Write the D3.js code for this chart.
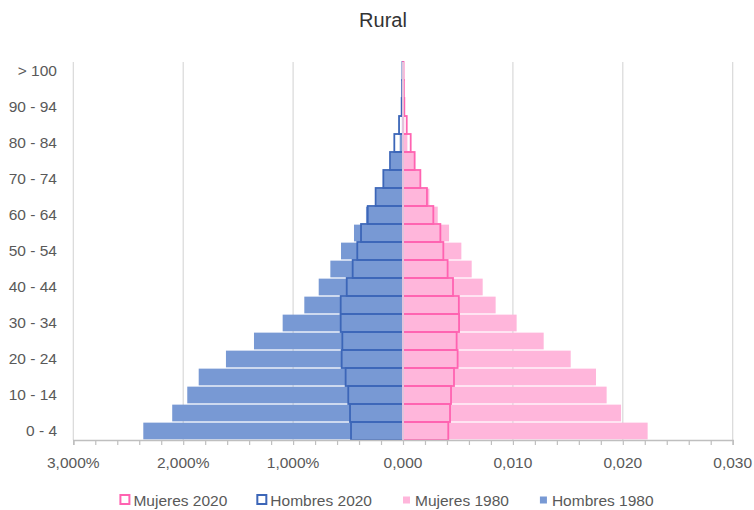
<!DOCTYPE html>
<html><head><meta charset="utf-8">
<script src="https://cdn.jsdelivr.net/npm/d3@7"></script>
<style>body{margin:0;background:#fff}svg{display:block}</style>
</head><body><svg id="c" width="754" height="510"></svg>
<script>
const title = "Rural";
const categories = ["0 - 4","5 - 9","10 - 14","15 - 19","20 - 24","25 - 29","30 - 34","35 - 39","40 - 44","45 - 49","50 - 54","55 - 59","60 - 64","65 - 69","70 - 74","75 - 79","80 - 84","85 - 89","90 - 94","95 - 99","> 100"];
const hombres1980 = [0.02363,0.0210,0.01963,0.01859,0.01611,0.01356,0.01095,0.00898,0.00767,0.00661,0.00564,0.00446,0.00337,0.00245,0.00175,0.0011,0.0003,0.0001,0.00004,0.00002,0.00001];
const hombres2020 = [0.00473,0.00482,0.00498,0.00522,0.00558,0.00552,0.00567,0.00567,0.00512,0.00458,0.00416,0.00382,0.00321,0.00249,0.00179,0.00118,0.00079,0.00036,0.00012,0.00008,0.00005];
const mujeres1980 = [0.02226,0.01984,0.01853,0.01756,0.01526,0.0128,0.01034,0.00843,0.00725,0.00625,0.00531,0.00419,0.00316,0.0024,0.00155,0.001,0.0004,0.00012,0.00005,0.00002,0.00001];
const mujeres2020 = [0.00412,0.00428,0.00437,0.00464,0.00497,0.00488,0.0051,0.00508,0.00455,0.00406,0.00367,0.0034,0.00276,0.00218,0.00158,0.00106,0.0007,0.00034,0.00012,0.00008,0.00005];
const xTickValues = [-0.03,-0.02,-0.01,0,0.01,0.02,0.03];
const xTickLabels = ["3,000%","2,000%","1,000%","0,000","0,010","0,020","0,030"];
const legendLabels = ["Mujeres 2020","Hombres 2020","Mujeres 1980","Hombres 1980"];

const C = {m80:"#7899d4", h20:"#3c66b8", w80:"#ffb6db", w20:"#ff63b1", grid:"#d9d9d9", axis:"#bfbfbf", text:"#595959"};
const FONT = "'Liberation Sans', Arial, sans-serif";

const svg = d3.select("#c");
const plotTop = 62, plotBottom = 440;
const x = d3.scaleLinear().domain([-0.03,0.03]).range([73.3,732.7]);
const y = d3.scaleBand().domain(categories.slice().reverse()).range([plotTop,plotBottom]).paddingInner(0.07).paddingOuter(0.035);

svg.append("text").attr("x",383).attr("y",27).attr("text-anchor","middle")
  .attr("font-family",FONT).attr("font-size",20).attr("fill","#333").text(title);

// gridlines
svg.append("g").selectAll("line").data(xTickValues.filter(v=>v!==0)).join("line")
  .attr("x1",d=>x(d)).attr("x2",d=>x(d)).attr("y1",plotTop).attr("y2",plotBottom)
  .attr("stroke",C.grid).attr("stroke-width",1.2);

const step = y.step();
const gap = step - y.bandwidth();
// 1980 bars
svg.append("g").selectAll("rect").data(categories).join("rect")
  .attr("x",(d,i)=>x(-hombres1980[i])).attr("y",d=>y(d))
  .attr("width",(d,i)=>x(0)-x(-hombres1980[i])).attr("height",y.bandwidth())
  .attr("fill",C.m80);
svg.append("g").selectAll("rect").data(categories).join("rect")
  .attr("x",x(0)).attr("y",d=>y(d))
  .attr("width",(d,i)=>x(mujeres1980[i])-x(0)).attr("height",y.bandwidth())
  .attr("fill",C.w80);
// 2020 outlines
svg.append("g").selectAll("rect").data(categories).join("rect")
  .attr("x",(d,i)=>x(-hombres2020[i])).attr("y",d=>y(d)-gap/2)
  .attr("width",(d,i)=>x(0)-x(-hombres2020[i])).attr("height",step)
  .attr("fill","none").attr("stroke",C.h20).attr("stroke-width",1.8);
svg.append("g").selectAll("rect").data(categories).join("rect")
  .attr("x",x(0)).attr("y",d=>y(d)-gap/2)
  .attr("width",(d,i)=>x(mujeres2020[i])-x(0)).attr("height",step)
  .attr("fill","none").attr("stroke",C.w20).attr("stroke-width",1.8);
// zero line
svg.append("line").attr("x1",x(0)).attr("x2",x(0)).attr("y1",plotTop).attr("y2",plotBottom)
  .attr("stroke","#dfe3ea").attr("stroke-width",1.5);

// x axis
const xAxis = d3.axisBottom(x).tickValues(d3.range(-15,16).map(k=>k*0.002)).tickSize(5)
  .tickFormat(()=> "");
const gx = svg.append("g").attr("transform",`translate(0,${plotBottom})`).call(xAxis);
gx.select(".domain").attr("stroke",C.axis).attr("stroke-width",1.5);
gx.selectAll(".tick line").attr("stroke",C.axis).attr("stroke-width",1.2);
svg.append("g").selectAll("text").data(xTickValues).join("text")
  .attr("x",d=>x(d)).attr("y",468).attr("text-anchor","middle")
  .attr("font-family",FONT).attr("font-size",15.5).attr("fill",C.text)
  .text((d,i)=>xTickLabels[i]);

// y axis labels
const yAxis = d3.axisLeft(y).tickValues(categories.filter((d,i)=>i%2===0)).tickSize(0).tickPadding(0);
const gy = svg.append("g").attr("transform","translate(57,0)").call(yAxis);
gy.select(".domain").remove();
gy.selectAll("text").attr("font-family",FONT).attr("font-size",15.5).attr("fill",C.text);

// legend
const lg = svg.append("g");
const items = legendLabels.map((l,i)=>({l,i}));
const itemsG = lg.selectAll("g").data(items).join("g");
itemsG.each(function(d){
  const g = d3.select(this);
  if (d.i<2) {
    g.append("rect").attr("x",1).attr("y",-10.5).attr("width",9).attr("height",9)
      .attr("fill","#fff").attr("stroke",d.i===0?C.w20:C.h20).attr("stroke-width",2);
  } else {
    g.append("rect").attr("x",2).attr("y",-9).attr("width",7).attr("height",7)
      .attr("fill",d.i===2?C.w80:C.m80);
  }
  const t = g.append("text").attr("x",14).attr("y",0).attr("font-family",FONT)
    .attr("font-size",15.5).attr("fill",C.text).text(d.l);
  d.w = 14 + t.node().getComputedTextLength();
});
const spacing = 29;
const total = d3.sum(items,d=>d.w) + spacing*(items.length-1);
let pos = 386.5 - total/2;
itemsG.attr("transform",d=>{const p=pos; pos += d.w + spacing; return `translate(${p},505.5)`;});
</script></body></html>
